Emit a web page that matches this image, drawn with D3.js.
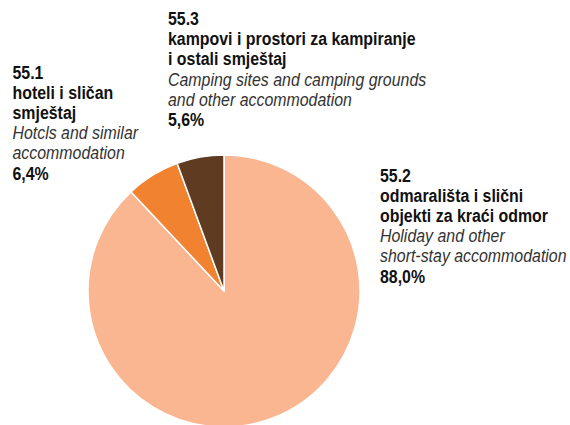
<!DOCTYPE html>
<html>
<head>
<meta charset="utf-8">
<script src="https://cdn.jsdelivr.net/npm/d3@7"></script>
<style>
  html, body { margin: 0; padding: 0; background: #fff; }
  svg { display: block; }
  text { font-family: "Liberation Sans", Arial, sans-serif; font-size: 18.5px; }
  .b { font-weight: bold; fill: #111; }
  .i { font-style: italic; fill: #333; }
</style>
</head>
<body>
<svg id="chart" width="570" height="425"></svg>
<script>
// Data
const codes = ["55.2", "55.1", "55.3"];
const shares = [88.0, 6.4, 5.6];
const shareLabels = ["88,0%", "6,4%", "5,6%"];
const namesHr = [
  ["odmarališta i slični", "objekti za kraći odmor"],
  ["hoteli i sličan", "smještaj"],
  ["kampovi i prostori za kampiranje", "i ostali smještaj"]
];
const namesEn = [
  ["Holiday and other", "short-stay accommodation"],
  ["Hotcls and similar", "accommodation"],
  ["Camping sites and camping grounds", "and other accommodation"]
];
const colors = ["#F9B690", "#F08230", "#5E3B21"];

const svg = d3.select("#chart");
const cx = 224, cy = 291, r = 136;

const pie = d3.pie().sort(null).value(d => d)(shares);
const arc = d3.arc().innerRadius(0).outerRadius(r);
const color = d3.scaleOrdinal().domain(codes).range(colors);

svg.append("g").attr("transform", `translate(${cx},${cy})`)
  .selectAll("path").data(pie).join("path")
  .attr("d", arc)
  .attr("fill", (d, i) => color(codes[i]))
  .attr("stroke", "#fff")
  .attr("stroke-width", 1.5)
  .attr("stroke-linejoin", "round");

// Label blocks
const labelPos = [
  { x: 380, y: 181.5 },
  { x: 12.5, y: 78.5 },
  { x: 168, y: 25 }
];
const lh = 20.2;
const squeeze = 0.86;

codes.forEach((c, i) => {
  const lines = [
    { t: c, cls: "b" },
    ...namesHr[i].map(t => ({ t, cls: "b" })),
    ...namesEn[i].map(t => ({ t, cls: "i" })),
    { t: shareLabels[i], cls: "b" }
  ];
  lines.forEach((l, k) => {
    svg.append("text")
      .attr("class", l.cls)
      .attr("transform", `translate(${labelPos[i].x},${labelPos[i].y + k * lh}) scale(${squeeze},1)`)
      .text(l.t);
  });
});
</script>
</body>
</html>
